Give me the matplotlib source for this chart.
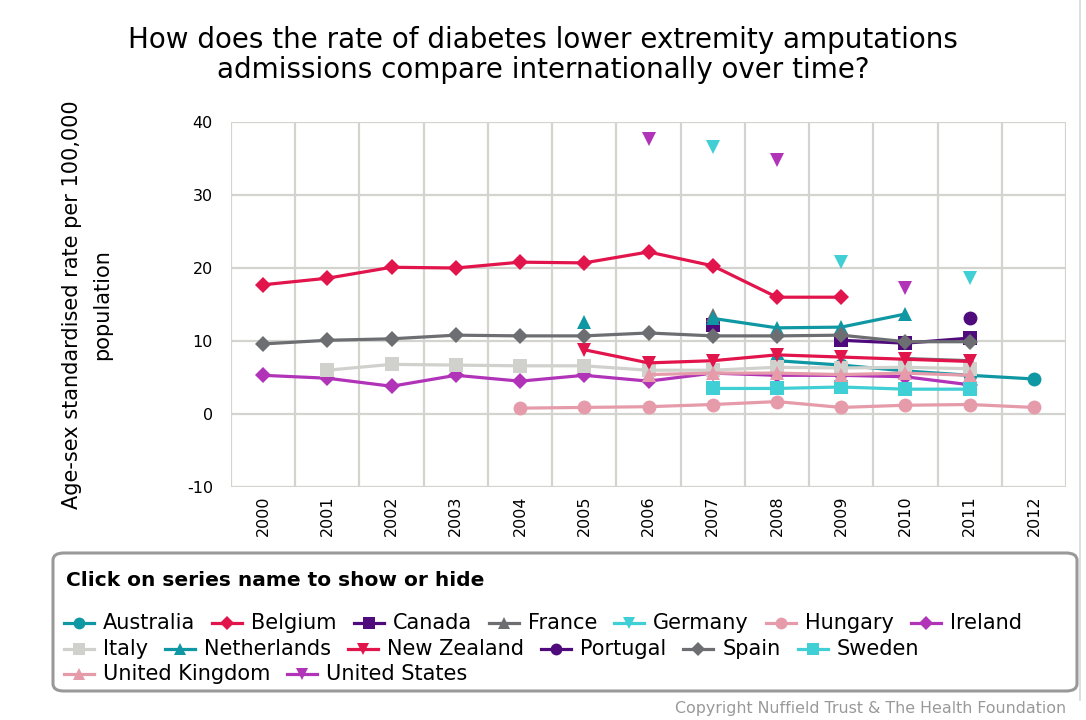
import numpy as np
import matplotlib
matplotlib.use("Agg")
import matplotlib.pyplot as plt
from matplotlib.lines import Line2D
from matplotlib.patches import FancyBboxPatch

plt.rcParams['font.family'] = ['DejaVu Sans']
plt.rcParams['axes.unicode_minus'] = False

years = ["2000", "2001", "2002", "2003", "2004", "2005", "2006",
         "2007", "2008", "2009", "2010", "2011", "2012"]

N = None
australia   = [N, N, N, N, N, N, N, N, 7.3, 6.7, 5.9, 5.3, 4.8]
belgium     = [17.7, 18.6, 20.1, 20.0, 20.8, 20.7, 22.2, 20.3, 16.0, 16.0, N, N, N]
canada      = [N, N, N, N, N, N, N, 12.2, N, 10.1, 9.7, 10.4, N]
france      = [N, N, N, N, N, N, N, 13.6, N, N, 7.6, 7.3, N]
germany     = [N, N, N, N, N, N, N, 36.6, N, 20.8, N, 18.6, N]
hungary     = [N, N, N, N, 0.8, 0.9, 1.0, 1.3, 1.7, 0.9, 1.2, 1.3, 0.9]
ireland     = [5.3, 4.9, 3.8, 5.3, 4.5, 5.3, 4.5, 5.6, 5.3, 5.3, 5.1, 4.0, N]
italy       = [N, 6.0, 6.8, 6.7, 6.6, 6.6, 6.0, 6.0, 6.4, 6.3, 6.4, 6.2, N]
netherlands = [N, N, N, N, N, 12.6, N, 13.1, 11.8, 11.9, 13.7, N, N]
new_zealand = [N, N, N, N, N, 8.8, 7.0, 7.3, 8.1, 7.8, 7.5, 7.2, N]
portugal    = [N, N, N, N, N, N, N, N, N, N, N, 13.1, N]
spain       = [9.6, 10.1, 10.3, 10.8, 10.7, 10.7, 11.1, 10.7, 10.7, 10.8, 9.9, 9.9, N]
sweden      = [N, N, N, N, N, N, N, 3.5, 3.5, 3.7, 3.4, 3.4, N]
uk          = [N, N, N, N, N, N, 5.4, 5.6, 5.6, 5.4, 5.6, 5.3, N]
us          = [N, N, N, N, N, N, 37.7, N, 34.8, N, 17.3, N, N]

series = [
    ("Australia", australia, "#0f98a3", "o"),
    ("Belgium", belgium, "#e2144c", "D"),
    ("Canada", canada, "#4f0b7b", "s"),
    ("France", france, "#6d6e71", "^"),
    ("Germany", germany, "#3fcfd5", "v"),
    ("Hungary", hungary, "#e59ba9", "o"),
    ("Ireland", ireland, "#b033b8", "D"),
    ("Italy", italy, "#d0d0cc", "s"),
    ("Netherlands", netherlands, "#0f98a3", "^"),
    ("New Zealand", new_zealand, "#e2144c", "v"),
    ("Portugal", portugal, "#4f0b7b", "o"),
    ("Spain", spain, "#6d6e71", "D"),
    ("Sweden", sweden, "#3fcfd5", "s"),
    ("United Kingdom", uk, "#e59ba9", "^"),
    ("United States", us, "#b033b8", "v"),
]
msize = {"o": 10, "D": 8, "s": 9.5, "^": 10, "v": 10}

W, H = 1086, 720
fig = plt.figure(figsize=(W / 100, H / 100), dpi=100)
fig.patch.set_facecolor("white")

def fx(px):
    return px / W

def fy(py):
    return 1 - py / H

ax = fig.add_axes([fx(231), fy(487), fx(1066) - fx(231), fy(122) - fy(487)])
x = np.arange(len(years))
for name, vals, col, mk in series:
    v = np.array([np.nan if a is None else a for a in vals], dtype=float)
    ax.plot(x, v, color=col, lw=2.3, marker=mk, markersize=msize[mk],
            markeredgewidth=0, solid_joinstyle="round")

ax.set_xlim(-0.5, len(years) - 0.5)
ax.set_ylim(-10, 40)
ax.set_yticks([-10, 0, 10, 20, 30, 40])
ax.set_xticks(x)
ax.set_xticklabels(years, rotation=90)
ax.set_xticks(np.arange(-0.5, len(years), 1.0), minor=True)
ax.tick_params(axis="both", which="both", length=0, labelsize=11.5, colors="black")
ax.tick_params(axis="y", pad=13)
ax.tick_params(axis="x", pad=6)
ax.grid(True, axis="y", which="major", color="#d3d3cf", lw=1.6)
ax.grid(True, axis="x", which="minor", color="#d3d3cf", lw=1.6)
ax.grid(False, axis="x", which="major")
ax.set_axisbelow(True)
for s in ax.spines.values():
    s.set_visible(False)
ax.set_ylabel("Age-sex standardised rate per 100,000\npopulation", fontsize=15,
              linespacing=1.6)
ax.yaxis.set_label_coords((112 - 231) / (1066 - 231), 0.5)

fig.text(0.5, fy(55), "How does the rate of diabetes lower extremity amputations\n"
         "admissions compare internationally over time?",
         ha="center", va="center", fontsize=20, linespacing=1.1)

# legend box
box = FancyBboxPatch((fx(53), fy(691)), fx(1077) - fx(53), fy(553) - fy(691),
                     boxstyle="round,pad=0,rounding_size=0.01",
                     transform=fig.transFigure, facecolor="white",
                     edgecolor="#999999", lw=2.2)
fig.add_artist(box)
fig.text(fx(66), fy(581), "Click on series name to show or hide", ha="left",
         va="center", fontsize=14.5, fontweight="bold")

rows = [["Australia", "Belgium", "Canada", "France", "Germany", "Hungary", "Ireland"],
        ["Italy", "Netherlands", "New Zealand", "Portugal", "Spain", "Sweden"],
        ["United Kingdom", "United States"]]
row_y = [623, 649, 674]
lookup = {s[0]: s for s in series}
fig.canvas.draw()
renderer = fig.canvas.get_renderer()
for r, names in enumerate(rows):
    cx = 64
    yy = row_y[r]
    for name in names:
        _, _, col, mk = lookup[name]
        ln = Line2D([fx(cx), fx(cx + 30)], [fy(yy), fy(yy)], transform=fig.transFigure,
                    color=col, lw=2.3)
        fig.add_artist(ln)
        mkr = Line2D([fx(cx + 15)], [fy(yy)], transform=fig.transFigure, color=col,
                     marker=mk, markersize=msize[mk] * 0.85, markeredgewidth=0, lw=0)
        fig.add_artist(mkr)
        t = fig.text(fx(cx + 39), fy(yy), name, ha="left", va="center", fontsize=15)
        wpx = t.get_window_extent(renderer).width
        cx = cx + 39 + wpx + 17

fig.text(fx(1066), fy(708), "Copyright Nuffield Trust & The Health Foundation",
         ha="right", va="center", fontsize=11.4, color="#999999")

fig.add_artist(Line2D([fx(1080), fx(1080)], [fy(0), fy(700)], transform=fig.transFigure,
                      color="#d8d8d8", lw=1.2))

fig.savefig("out.png", dpi=100)
